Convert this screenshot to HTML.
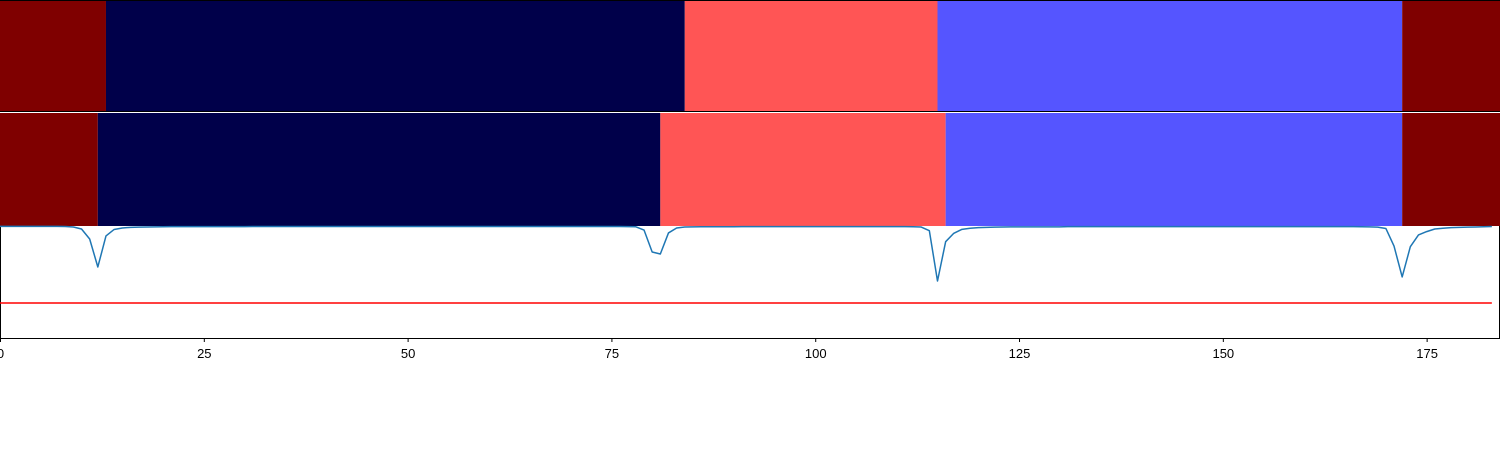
<!DOCTYPE html>
<html><head><meta charset="utf-8"><style>
html,body{margin:0;padding:0;background:#fff;width:1500px;height:450px;overflow:hidden}
svg{display:block;font-family:"Liberation Sans","DejaVu Sans",sans-serif}
</style></head><body>
<svg id="chart" width="1500" height="450" viewBox="0 0 1500 450" xmlns="http://www.w3.org/2000/svg"></svg>
<script>
const topBounds = [0, 13, 84, 115, 172, 184];
const bottomBounds = [0, 12, 81, 116, 172, 184];
const segColors = ["#7f0000", "#00004a", "#ff5555", "#5555ff", "#7f0000"];
const xTicks = [0, 25, 50, 75, 100, 125, 150, 175];
const threshold = 0.3125;
const series = [
0.997,0.997,0.997,0.997,0.997,0.997,0.997,0.997,0.996,0.991,
0.973,0.884,0.634,0.911,0.969,0.982,0.988,0.990,0.991,0.992,
0.993,0.994,0.994,0.994,0.994,0.994,0.994,0.994,0.994,0.994,
0.994,0.995,0.995,0.995,0.995,0.995,0.995,0.995,0.995,0.995,
0.995,0.995,0.995,0.995,0.995,0.995,0.995,0.995,0.995,0.995,
0.995,0.995,0.995,0.995,0.995,0.995,0.995,0.995,0.995,0.995,
0.995,0.995,0.995,0.995,0.995,0.995,0.995,0.995,0.995,0.995,
0.995,0.995,0.995,0.995,0.995,0.995,0.995,0.994,0.993,0.964,
0.768,0.750,0.938,0.982,0.991,0.992,0.993,0.993,0.993,0.993,
0.993,0.994,0.994,0.994,0.994,0.994,0.994,0.994,0.994,0.994,
0.994,0.994,0.994,0.994,0.994,0.994,0.994,0.994,0.994,0.994,
0.994,0.994,0.993,0.991,0.958,0.509,0.860,0.935,0.970,0.980,
0.985,0.988,0.990,0.991,0.992,0.992,0.992,0.992,0.992,0.992,
0.992,0.994,0.994,0.994,0.994,0.994,0.994,0.994,0.994,0.994,
0.994,0.994,0.994,0.994,0.994,0.994,0.994,0.994,0.994,0.994,
0.994,0.994,0.994,0.994,0.994,0.994,0.994,0.994,0.994,0.994,
0.994,0.994,0.994,0.994,0.994,0.994,0.994,0.993,0.992,0.990,
0.978,0.821,0.545,0.815,0.920,0.950,0.973,0.980,0.985,0.988,
0.990,0.991,0.993,0.995
];

const svg = document.getElementById('chart');
const NS = 'http://www.w3.org/2000/svg';
const X0 = 0, X1 = 1500, XMAX = 184;
const xs = v => X0 + v * (X1 - X0) / XMAX;
const L_TOP = 226, L_BOT = 338;
const ys = v => L_BOT - v * (L_BOT - L_TOP);
function mk(tag, attrs) { const e = document.createElementNS(NS, tag); for (const k in attrs) e.setAttribute(k, attrs[k]); svg.appendChild(e); return e; }

function drawBar(bounds, y, h, prefix) {
  for (let i = 0; i < bounds.length - 1; i++) {
    const r = mk('rect', {x: xs(bounds[i]), y: y, width: xs(bounds[i+1]) - xs(bounds[i]), height: h, fill: segColors[i]});
    
    
  }
}
drawBar(topBounds, 0, 112, 'top-row');
drawBar(bottomBounds, 113, 113, 'bottom-row');
const tl = mk('path', {d: 'M0 0.5 H1500 M0 111.5 H1500', fill: 'none', stroke: '#000', 'stroke-width': 1});



// line axes frame
const fr = mk('path', {d: `M0.5 ${L_TOP} V${L_BOT+0.5} H1499.5 V${L_TOP}`, fill: 'none', stroke: '#000', 'stroke-width': 1});



const th = mk('line', {x1: xs(0), x2: xs(series.length - 1), y1: ys(threshold), y2: ys(threshold), stroke: '#ff0000', 'stroke-width': 1.5});



const d = series.map((v, i) => (i ? 'L' : 'M') + xs(i).toFixed(2) + ' ' + ys(v).toFixed(2)).join(' ');
const ln = mk('path', {d: d, fill: 'none', stroke: '#1f77b4', 'stroke-width': 1.5, 'stroke-linejoin': 'round'});



xTicks.forEach(t => {
  const tk = mk('line', {x1: xs(t) + 0.5, x2: xs(t) + 0.5, y1: L_BOT, y2: L_BOT + 4, stroke: '#000', 'stroke-width': 1});
  
  
  const tx = mk('text', {x: xs(t) + 0.5, y: 358, 'font-size': 13, 'text-anchor': 'middle', fill: '#000'});
  tx.textContent = String(t);
  
  
});
</script>
</body></html>
